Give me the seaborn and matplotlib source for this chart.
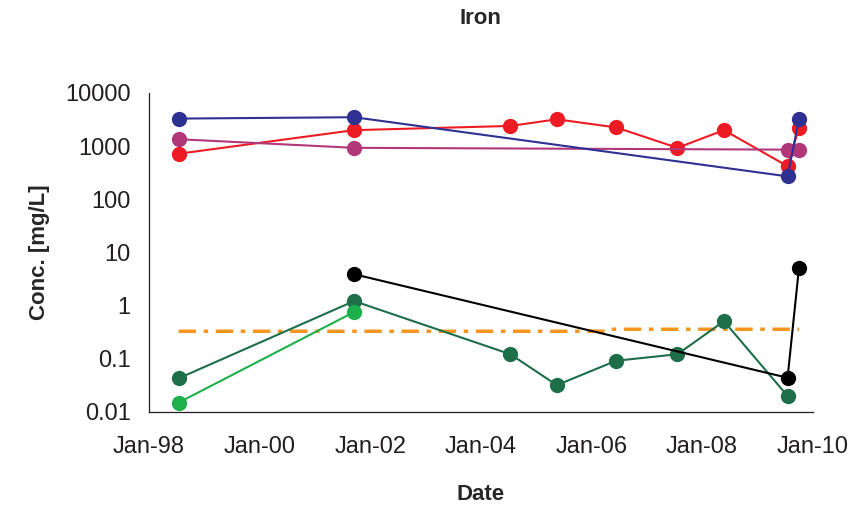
import numpy as np
import pandas as pd
import matplotlib
matplotlib.use("Agg")
import matplotlib.pyplot as plt
import matplotlib.dates as mdates
from matplotlib.ticker import FixedLocator, FixedFormatter, NullLocator
import seaborn as sns

# Sampling dates
dates_blue = ["1998-07-16", "2001-09-17", "2009-07-19", "2009-10-02"]
blue_vals = [3300, 3500, 270, 3200]

dates_red = ["1998-07-16", "2001-09-17", "2004-07-15", "2005-05-17", "2006-06-13",
             "2007-07-23", "2008-05-25", "2009-07-19", "2009-10-02"]
red_vals = [720, 2000, 2400, 3200, 2250, 930, 2000, 420, 2200]

dates_purple = ["1998-07-16", "2001-09-17", "2009-07-19", "2009-10-02"]
purple_vals = [1350, 930, 860, 860]

dates_black = ["2001-09-17", "2009-07-19", "2009-10-02"]
black_vals = [3.9, 0.044, 5.0]

dates_dkgreen = ["1998-07-16", "2001-09-17", "2004-07-15", "2005-05-17", "2006-06-13",
                 "2007-07-23", "2008-05-25", "2009-07-19"]
dkgreen_vals = [0.043, 1.22, 0.122, 0.032, 0.092, 0.122, 0.51, 0.02]

dates_ltgreen = ["1998-07-16", "2001-09-17"]
ltgreen_vals = [0.015, 0.76]

# guideline (dash-dot)
dates_limit = ["1998-07-16", "2006-04-20", "2006-05-10", "2009-10-02"]
limit_vals = [0.33, 0.33, 0.36, 0.36]

ytick_vals = [0.01, 0.1, 1, 10, 100, 1000, 10000]
ytick_labels = ["0.01", "0.1", "1", "10", "100", "1000", "10000"]

sns.set_style("white")
plt.rcParams["font.family"] = ["Liberation Sans", "DejaVu Sans"]

fig = plt.figure(figsize=(8.51, 5.07), dpi=100)
ax = fig.add_axes([0.175, 0.1874, 0.780, 0.6292])

series = [
    (dates_dkgreen, dkgreen_vals, "#1F6E4A"),
    (dates_ltgreen, ltgreen_vals, "#1DB04B"),
    (dates_black, black_vals, "#000000"),
    (dates_red, red_vals, "#ED1C24"),
    (dates_purple, purple_vals, "#B2377A"),
    (dates_blue, blue_vals, "#2E3192"),
]

for d, v, c in series:
    df = pd.DataFrame({"date": pd.to_datetime(d), "conc": v})
    sns.lineplot(data=df, x="date", y="conc", ax=ax, color=c, linewidth=1.5,
                 marker="o", markersize=11, markeredgewidth=0, sort=False)

df_lim = pd.DataFrame({"date": pd.to_datetime(dates_limit), "conc": limit_vals})
sns.lineplot(data=df_lim, x="date", y="conc", ax=ax, color="#F7941D",
             linewidth=2.5, sort=False, zorder=1.5)
ax.lines[-1].set_linestyle((0, (5, 2.2, 1.3, 2.2)))

ax.set_yscale("log")
ax.set_ylim(0.01, 10000)
ax.yaxis.set_major_locator(FixedLocator(ytick_vals))
ax.yaxis.set_major_formatter(FixedFormatter(ytick_labels))
ax.yaxis.set_minor_locator(NullLocator())

ax.set_xlim(pd.Timestamp("1998-01-01"), pd.Timestamp("2010-01-01"))
ax.xaxis.set_major_locator(mdates.YearLocator(2))
ax.xaxis.set_major_formatter(mdates.DateFormatter("%b-%y"))

for side in ["top", "right"]:
    ax.spines[side].set_visible(False)
for side in ["left", "bottom"]:
    ax.spines[side].set_color("#231F20")
    ax.spines[side].set_linewidth(0.9)

ax.tick_params(axis="both", which="major", direction="out", length=5, width=0.9,
               color="#231F20", labelsize=17, labelcolor="#231F20")
ax.tick_params(axis="y", pad=8)
ax.tick_params(axis="x", pad=12)

ax.set_xlabel("Date", fontsize=16, fontweight="bold")
ax.set_ylabel("Conc. [mg/L]", fontsize=16, fontweight="bold")
ax.xaxis.set_label_coords(0.5, -0.226)
ax.yaxis.set_label_coords(-0.149, 0.5)

fig.text(0.565, 1 - 18 / 507, "Iron", ha="center", va="center",
         fontsize=16, fontweight="bold")

fig.savefig("out.png", dpi=100)
